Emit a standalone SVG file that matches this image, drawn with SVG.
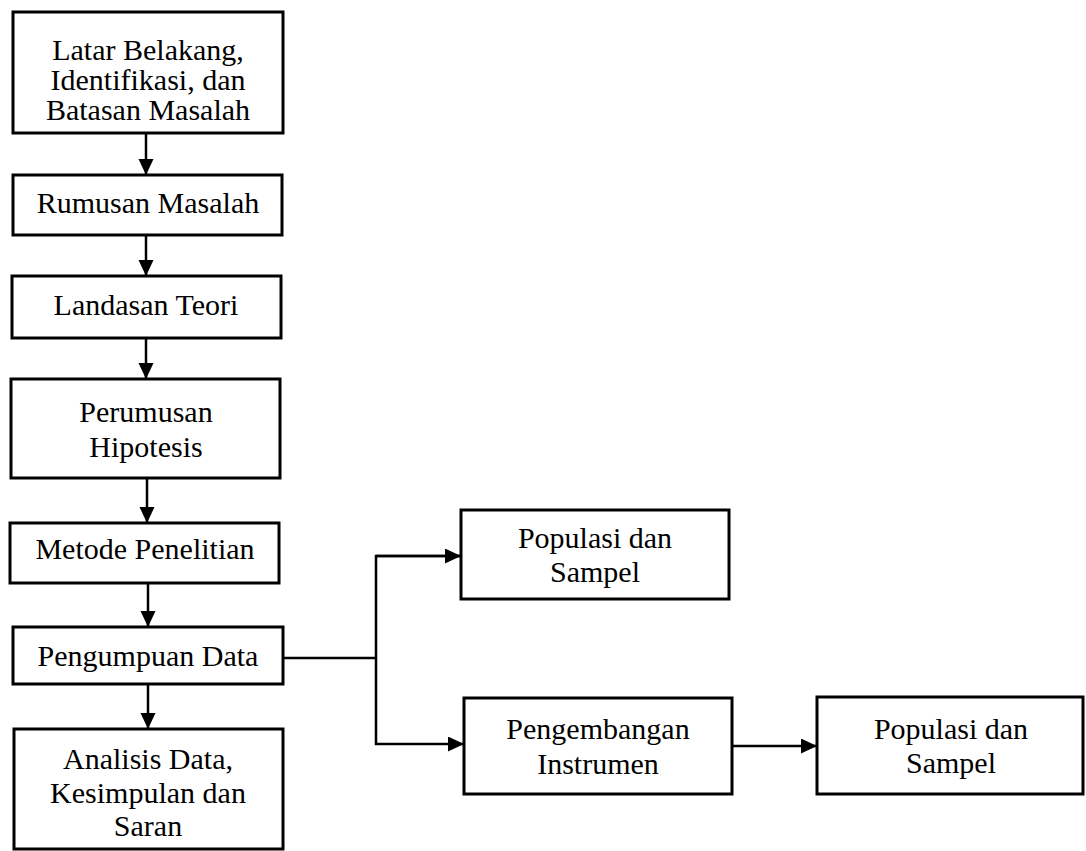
<svg xmlns="http://www.w3.org/2000/svg" width="1086" height="851" viewBox="0 0 1086 851">
<style>
.box{fill:#fff;stroke:#000;stroke-width:3}
.t{font-family:"Liberation Serif","Times New Roman",serif;font-size:30px;fill:#000;text-anchor:middle}
.c{fill:none;stroke:#000;stroke-width:2.5}
</style>
<defs>
<marker id="ah" markerWidth="16" markerHeight="16" refX="16" refY="7.5" orient="auto" markerUnits="userSpaceOnUse">
<path d="M0,0 L16,7.5 L0,15 Z" fill="#000"/>
</marker>
</defs>
<rect width="1086" height="851" fill="#fff"/>
<g id="connectors">
<line class="c" x1="146" y1="133" x2="146" y2="175" marker-end="url(#ah)"/>
<line class="c" x1="146" y1="235" x2="146" y2="276" marker-end="url(#ah)"/>
<line class="c" x1="146" y1="338" x2="146" y2="379" marker-end="url(#ah)"/>
<line class="c" x1="147" y1="478" x2="147" y2="523" marker-end="url(#ah)"/>
<line class="c" x1="148" y1="583" x2="148" y2="627" marker-end="url(#ah)"/>
<line class="c" x1="148" y1="684" x2="148" y2="729" marker-end="url(#ah)"/>
<line class="c" x1="283" y1="658" x2="376" y2="658"/>
<polyline class="c" points="461,556 376,556 376,744 464,744" marker-end="url(#ah)"/>
<line class="c" x1="376" y1="556" x2="461" y2="556" marker-end="url(#ah)"/>
<line class="c" x1="732" y1="746" x2="817" y2="746" marker-end="url(#ah)"/>
</g>
<g id="n1"><rect class="box" x="13" y="12" width="270" height="121"/>
<text class="t" x="148" y="60">Latar Belakang,</text>
<text class="t" x="148" y="90">Identifikasi, dan</text>
<text class="t" x="148" y="120">Batasan Masalah</text></g>
<g id="n2"><rect class="box" x="13" y="175" width="269" height="60"/>
<text class="t" x="148" y="213">Rumusan Masalah</text></g>
<g id="n3"><rect class="box" x="12" y="276" width="269" height="62"/>
<text class="t" x="146" y="315">Landasan Teori</text></g>
<g id="n4"><rect class="box" x="11" y="379" width="269" height="99"/>
<text class="t" x="146" y="422">Perumusan</text>
<text class="t" x="146" y="457">Hipotesis</text></g>
<g id="n5"><rect class="box" x="10" y="523" width="269" height="60"/>
<text class="t" x="145" y="559">Metode Penelitian</text></g>
<g id="n6"><rect class="box" x="13" y="627" width="270" height="57"/>
<text class="t" x="148" y="666">Pengumpuan Data</text></g>
<g id="n7"><rect class="box" x="14" y="729" width="269" height="120"/>
<text class="t" x="148" y="769">Analisis Data,</text>
<text class="t" x="148" y="803">Kesimpulan dan</text>
<text class="t" x="148" y="836">Saran</text></g>
<g id="n8"><rect class="box" x="461" y="510" width="268" height="89"/>
<text class="t" x="595" y="548">Populasi dan</text>
<text class="t" x="595" y="582">Sampel</text></g>
<g id="n9"><rect class="box" x="464" y="698" width="268" height="96"/>
<text class="t" x="598" y="739">Pengembangan</text>
<text class="t" x="598" y="774">Instrumen</text></g>
<g id="n10"><rect class="box" x="817" y="697" width="266" height="97"/>
<text class="t" x="951" y="739">Populasi dan</text>
<text class="t" x="951" y="773">Sampel</text></g>
</svg>
